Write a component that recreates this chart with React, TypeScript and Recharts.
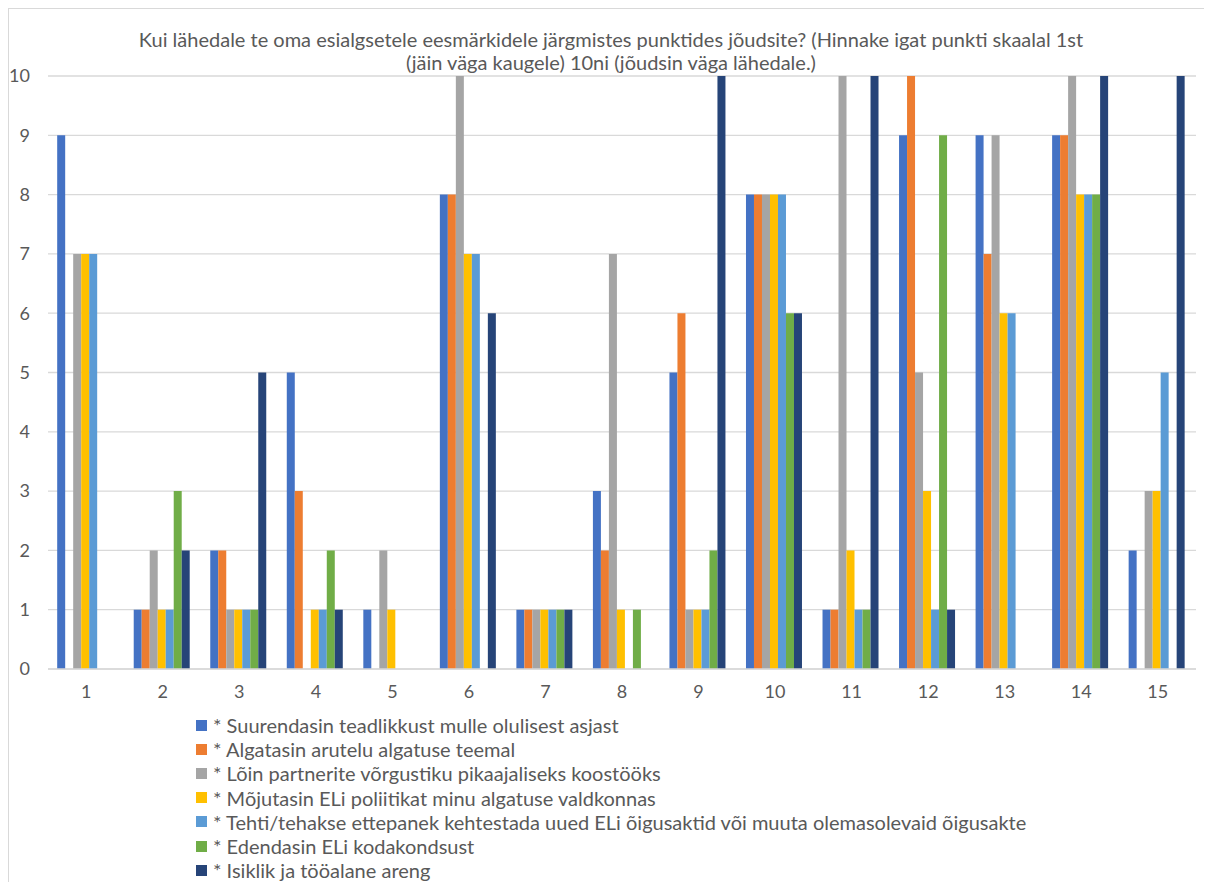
import React from 'react';
import { BarChart, Bar, XAxis, YAxis, CartesianGrid, Legend } from 'recharts';

// Point numbers on the X axis
const points = ['1', '2', '3', '4', '5', '6', '7', '8', '9', '10', '11', '12', '13', '14', '15'];

// One array per answer option, one value per point
const awareness = [9, 1, 2, 5, 1, 8, 1, 3, 5, 8, 1, 9, 9, 9, 2];
const debate = [0, 1, 2, 3, 0, 8, 1, 2, 6, 8, 1, 10, 7, 9, 0];
const network = [7, 2, 1, 0, 2, 10, 1, 7, 1, 8, 10, 5, 9, 10, 3];
const policy = [7, 1, 1, 1, 1, 7, 1, 1, 1, 8, 2, 3, 6, 8, 3];
const lawProposal = [7, 1, 1, 1, 0, 7, 1, 0, 1, 8, 1, 1, 6, 8, 5];
const citizenship = [0, 3, 1, 2, 0, 0, 1, 1, 2, 6, 1, 9, 0, 8, 0];
const personal = [0, 2, 5, 1, 0, 6, 1, 0, 10, 6, 10, 1, 0, 10, 10];

const yTicks = [0, 1, 2, 3, 4, 5, 6, 7, 8, 9, 10];

const series = [
  { key: 'awareness', values: awareness, color: '#4472C4', label: '* Suurendasin teadlikkust mulle olulisest asjast' },
  { key: 'debate', values: debate, color: '#ED7D31', label: '* Algatasin arutelu algatuse teemal' },
  { key: 'network', values: network, color: '#A5A5A5', label: '* Lõin partnerite võrgustiku pikaajaliseks koostööks' },
  { key: 'policy', values: policy, color: '#FFC000', label: '* Mõjutasin ELi poliitikat minu algatuse valdkonnas' },
  { key: 'lawProposal', values: lawProposal, color: '#5B9BD5', label: '* Tehti/tehakse ettepanek kehtestada uued ELi õigusaktid või muuta olemasolevaid õigusakte' },
  { key: 'citizenship', values: citizenship, color: '#70AD47', label: '* Edendasin ELi kodakondsust' },
  { key: 'personal', values: personal, color: '#264478', label: '* Isiklik ja tööalane areng' },
];

const chartData = points.map((point, i) => {
  const row: Record<string, string | number> = { point };
  series.forEach((s) => {
    row[s.key] = s.values[i];
  });
  return row;
});

const FONT = 'Lato, "Open Sans", sans-serif';
const TEXT = '#595959';

function LegendList() {
  return (
    <div style={{ fontFamily: FONT, fontSize: 20, color: TEXT }}>
      {series.map((s) => (
        <div key={s.key} style={{ display: 'flex', alignItems: 'center', height: 24.2, whiteSpace: 'nowrap' }}>
          <span style={{ width: 11, height: 11, background: s.color, marginRight: 6, flex: 'none' }} />
          <span>{s.label}</span>
        </div>
      ))}
    </div>
  );
}

export default function App() {
  return (
    <div
      style={{
        position: 'relative',
        width: 1210,
        height: 880,
        border: '1px solid #d9d9d9',
        background: '#fff',
        fontFamily: FONT,
      }}
    >
      <div
        style={{
          position: 'absolute',
          top: 19,
          left: 0,
          width: 1204,
          textAlign: 'center',
          fontSize: 20,
          lineHeight: '23px',
          color: TEXT,
        }}
      >
        Kui lähedale te oma esialgsetele eesmärkidele järgmistes punktides jõudsite? (Hinnake igat punkti skaalal 1st
        <br />
        (jäin väga kaugele) 10ni (jõudsin väga lähedale.)
      </div>
      <BarChart
        width={1210}
        height={872}
        data={chartData}
        margin={{ top: 67, right: 23, left: 0, bottom: 172 }}
        barGap={0}
        barCategoryGap="12%"
      >
        <CartesianGrid vertical={false} stroke="#d9d9d9" strokeWidth={1.3} />
        <XAxis
          dataKey="point"
          height={40}
          axisLine={{ stroke: '#d9d9d9', strokeWidth: 1.3 }}
          tickLine={false}
          tickMargin={10}
          tick={{ fill: TEXT, fontSize: 18, fontFamily: FONT }}
        />
        <YAxis
          width={39}
          domain={[0, 10]}
          ticks={yTicks}
          interval={0}
          axisLine={false}
          tickLine={false}
          tickMargin={12}
          tick={{ fill: TEXT, fontSize: 18, fontFamily: FONT }}
        />
        <Legend
          layout="vertical"
          align="center"
          verticalAlign="middle"
          wrapperStyle={{ top: 704, left: 187, width: 'auto' }}
          content={() => <LegendList />}
        />
        {series.map((s) => (
          <Bar key={s.key} dataKey={s.key} fill={s.color} isAnimationActive={false} />
        ))}
      </BarChart>
    </div>
  );
}
